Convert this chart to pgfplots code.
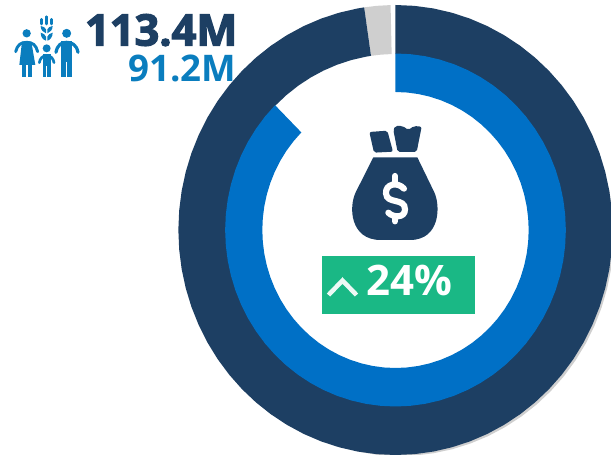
\documentclass[border=0pt]{standalone}
\usepackage{pgfplots}
\pgfplotsset{compat=1.18}
\usepackage{fontspec}
\setmainfont{Open Sans}
\newfontfamily\xb{Open Sans}[BoldFeatures={FakeBold=3}]
\definecolor{navy}{HTML}{1D3F63}
\definecolor{ringblue}{HTML}{0070C6}
\definecolor{midblue}{HTML}{0A7DBE}
\definecolor{ringgray}{HTML}{CFCFCF}
\definecolor{boxgreen}{HTML}{1AB885}
\begin{document}
\begin{tikzpicture}
\begin{axis}[name=main,at={(0,0)},anchor=south west,scale only axis,width=458.25pt,height=340.5pt,
  axis lines=none,xmin=-409.8,xmax=223.3,ymin=-224,ymax=230,clip=true]
% soft grey edge under the dark ring
\addplot[fill=ringgray,draw=none,data cs=polar] coordinates {
(10,225)(5,225.6)(0,226)(-5,226.4)(-10,226.7)(-15,227)(-20,227.2)(-25,227.4)(-30,227.5)(-35,227.6)(-40,227.7)(-45,227.7)(-50,227.7)(-55,227.6)(-60,227.5)(-65,227.4)(-70,227.2)(-75,227)(-80,226.7)(-85,226.4)(-90,226)(-95,225.6)(-100,225)
(-100,215)(-90,215)(-80,215)(-70,215)(-60,215)(-50,215)(-40,215)(-30,215)(-20,215)(-10,215)(0,215)(10,215)} --cycle;
% grey ring slice
\addplot[fill=ringgray,draw=none,data cs=polar] coordinates {
(98.3,225)(95,225)(91.3,225)(91.3,176)(95,176)(98.3,176)} --cycle;
% dark ring
\addplot[fill=navy,draw=none,data cs=polar] coordinates {
(90,225)(85,225)(80,225)(75,225)(70,225)(65,225)(60,225)(55,225)(50,225)(45,225)(40,225)(35,225)(30,225)(25,225)(20,225)(15,225)(10,225)(5,225)(0,225)
(-5,225)(-10,225)(-15,225)(-20,225)(-25,225)(-30,225)(-35,225)(-40,225)(-45,225)(-50,225)(-55,225)(-60,225)(-65,225)(-70,225)(-75,225)(-80,225)(-85,225)(-90,225)
(-95,225)(-100,225)(-105,225)(-110,225)(-115,225)(-120,225)(-125,225)(-130,225)(-135,225)(-140,225)(-145,225)(-150,225)(-155,225)(-160,225)(-165,225)(-170,225)(-175,225)(-180,225)
(-185,225)(-190,225)(-195,225)(-200,225)(-205,225)(-210,225)(-215,225)(-220,225)(-225,225)(-230,225)(-235,225)(-240,225)(-245,225)(-250,225)(-255,225)(-260,225)(-261.7,225)
(-261.7,176)(-260,176)(-255,176)(-250,176)(-245,176)(-240,176)(-235,176)(-230,176)(-225,176)(-220,176)(-215,176)(-210,176)(-205,176)(-200,176)(-195,176)(-190,176)(-185,176)
(-180,176)(-175,176)(-170,176)(-165,176)(-160,176)(-155,176)(-150,176)(-145,176)(-140,176)(-135,176)(-130,176)(-125,176)(-120,176)(-115,176)(-110,176)(-105,176)(-100,176)(-95,176)
(-90,176)(-85,176)(-80,176)(-75,176)(-70,176)(-65,176)(-60,176)(-55,176)(-50,176)(-45,176)(-40,176)(-35,176)(-30,176)(-25,176)(-20,176)(-15,176)(-10,176)(-5,176)
(0,176)(5,176)(10,176)(15,176)(20,176)(25,176)(30,176)(35,176)(40,176)(45,176)(50,176)(55,176)(60,176)(65,176)(70,176)(75,176)(80,176)(85,176)(90,176)} --cycle;
% blue ring
\addplot[fill=ringblue,draw=none,data cs=polar] coordinates {
(90,176.5)(85,176.5)(80,176.5)(75,176.5)(70,176.5)(65,176.5)(60,176.5)(55,176.5)(50,176.5)(45,176.5)(40,176.5)(35,176.5)(30,176.5)(25,176.5)(20,176.5)(15,176.5)(10,176.5)(5,176.5)(0,176.5)
(-5,176.5)(-10,176.5)(-15,176.5)(-20,176.5)(-25,176.5)(-30,176.5)(-35,176.5)(-40,176.5)(-45,176.5)(-50,176.5)(-55,176.5)(-60,176.5)(-65,176.5)(-70,176.5)(-75,176.5)(-80,176.5)(-85,176.5)(-90,176.5)
(-95,176.5)(-100,176.5)(-105,176.5)(-110,176.5)(-115,176.5)(-120,176.5)(-125,176.5)(-130,176.5)(-135,176.5)(-140,176.5)(-145,176.5)(-150,176.5)(-155,176.5)(-160,176.5)(-165,176.5)(-170,176.5)(-175,176.5)(-180,176.5)
(-185,176.5)(-190,176.5)(-195,176.5)(-200,176.5)(-205,176.5)(-210,176.5)(-215,176.5)(-220,176.5)(-225,176.5)
(-225,138)(-220,138)(-215,138)(-210,138)(-205,138)(-200,138)(-195,138)(-190,138)(-185,138)
(-180,138)(-175,138)(-170,138)(-165,138)(-160,138)(-155,138)(-150,138)(-145,138)(-140,138)(-135,138)(-130,138)(-125,138)(-120,138)(-115,138)(-110,138)(-105,138)(-100,138)(-95,138)
(-90,138)(-85,138)(-80,138)(-75,138)(-70,138)(-65,138)(-60,138)(-55,138)(-50,138)(-45,138)(-40,138)(-35,138)(-30,138)(-25,138)(-20,138)(-15,138)(-10,138)(-5,138)
(0,138)(5,138)(10,138)(15,138)(20,138)(25,138)(30,138)(35,138)(40,138)(45,138)(50,138)(55,138)(60,138)(65,138)(70,138)(75,138)(80,138)(85,138)(90,138)} --cycle;
\end{axis}
\path (0,0) rectangle (458.25pt,340.5pt);
% pixel coordinates: x right, y down
\begin{scope}[shift={(0,340.5pt)},x=.75pt,y=-.75pt]
\fill[boxgreen] (322,256) rectangle (475,314);
\draw[white!92!boxgreen,line width=3.4pt,line join=miter] (328.5,295) -- (342.5,280.5) -- (356.5,295);
\node[anchor=base east,inner sep=0,text=white,font=\fontsize{31.5pt}{31.5pt}\selectfont\bfseries] at (452.5,295.5) {24\%};
\node[anchor=base east,inner sep=0,text=navy,font=\xb\fontsize{32.5pt}{32.5pt}\selectfont\bfseries] at (237.5,45.5) {113.4M};
\node[anchor=base east,inner sep=0,text=midblue,font=\fontsize{27.5pt}{27.5pt}\selectfont\bfseries] at (236.5,82) {91.2M};
\end{scope}
% money bag, in units of the 3x crop at (310,110)
\begin{scope}[shift={(232.5pt,258pt)},x=.25pt,y=-.25pt]
\fill[navy,rounded corners=1.5pt] (178,66) -- (232,62) -- (249,125) -- (192,128) -- cycle;
\fill[navy,rounded corners=1.5pt] (250,60) -- (255,48) -- (278,48) -- (295,60) -- (312,48) -- (335,50) -- (320,126) -- (263,126) -- cycle;
\fill[navy] (190,142) -- (322,142) -- (372,245) .. controls (392,285) and (392,390) .. (300,390) -- (212,390)
  .. controls (120,390) and (115,290) .. (138,245) -- cycle;
\draw[white,line width=4.6pt,line cap=round] (282,236) .. controls (262,214) and (226,222) .. (228,250)
  .. controls (230,284) and (285,262) .. (285,298) .. controls (285,326) and (248,322) .. (235,308);
\draw[white,line width=4.6pt,line cap=round] (255,198) -- (255,220) (255,320) -- (255,334);
\end{scope}
% family, in units of the 3x crop at (0,0)
\begin{scope}[shift={(0,340.5pt)},x=.25pt,y=-.25pt]
\begin{scope}[midblue]
\fill (80,100) circle (12.5);
\fill (140,145) circle (12);
\fill (200,100) circle (13.5);
% mother
\draw[line width=2.2pt,line cap=round,line join=round] (47,155) .. controls (52,135) and (62,127) .. (80,127) .. controls (98,127) and (108,135) .. (113,155);
\fill (66,125) -- (94,125) -- (106,195) -- (58,195) -- cycle;
\fill (65,190) rectangle (77,232);
\fill (83,190) rectangle (95,232);
% father
\draw[line width=2.4pt,line cap=round,line join=round] (168,157) .. controls (172,135) and (184,127) .. (200,127) .. controls (216,127) and (230,135) .. (234,157);
\fill (183,122) -- (217,122) -- (217,232) -- (183,232) -- cycle;
% child
\draw[line width=2pt,line cap=round,line join=round] (118,188) .. controls (120,175) and (128,167) .. (140,167) .. controls (152,167) and (160,175) .. (162,188);
\fill (128,162) rectangle (152,232);
% wheat
\draw[line width=2pt,line cap=round] (140,50) -- (140,72) (125,58) -- (125,72) (155,58) -- (155,72);
\fill (122,98) .. controls (122,112) and (130,120) .. (138,122) -- (138,110) .. controls (136,104) and (130,100) .. cycle;
\fill (158,98) .. controls (158,112) and (150,120) .. (142,122) -- (142,110) .. controls (144,104) and (150,100) .. cycle;
\fill (122,78) .. controls (122,90) and (130,97) .. (138,100) -- (138,88) .. controls (136,82) and (130,80) .. cycle;
\fill (158,78) .. controls (158,90) and (150,97) .. (142,100) -- (142,88) .. controls (144,82) and (150,80) .. cycle;
\end{scope}
\draw[white,line width=.75pt] (200,186) -- (200,233) (140,198) -- (140,233);
\end{scope}
\end{tikzpicture}
\end{document}
